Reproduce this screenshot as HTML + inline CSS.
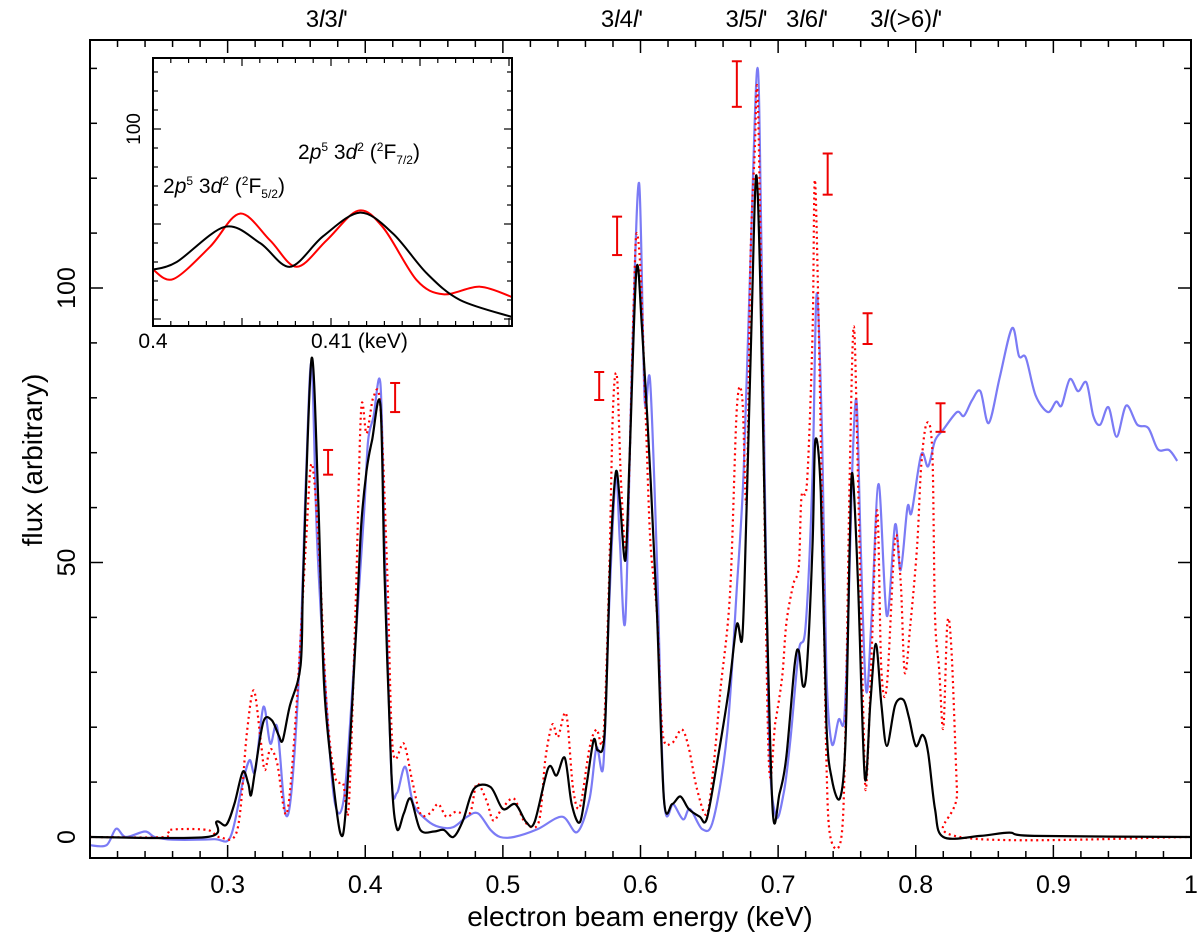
<!DOCTYPE html>
<html><head><meta charset="utf-8">
<style>
html,body{margin:0;padding:0;background:#fff;}
svg{display:block;font-family:"Liberation Sans",Arial,sans-serif;}
</style></head>
<body>
<svg id="chart" width="1200" height="942" viewBox="0 0 1200 942" xmlns="http://www.w3.org/2000/svg">
<g id="main"></g>
<g id="inset"></g>
</svg>
<script>
// ---- main chart data ----
const xTickLabels = ["0.3","0.4","0.5","0.6","0.7","0.8","0.9","1"];
const xTickValues = [0.3,0.4,0.5,0.6,0.7,0.8,0.9,1.0];
const yTickValues = [0,50,100];
const transitionLabels = ["3l3l'","3l4l'","3l5l'","3l6l'","3l(>6)l'"];
const transitionEnergies = [0.372,0.5865,0.677,0.721,0.793];

const blackE = [0.2,0.285,0.292,0.299,0.305,0.311,0.315,0.317,0.320,0.326,0.332,0.337,0.340,0.345,0.353,0.355,0.361,0.366,0.370,0.376,0.382,0.386,0.393,0.397,0.401,0.405,0.411,0.414,0.419,0.423,0.428,0.433,0.440,0.450,0.457,0.464,0.471,0.479,0.491,0.500,0.509,0.517,0.523,0.533,0.539,0.545,0.550,0.556,0.561,0.566,0.569,0.574,0.578,0.582,0.585,0.589,0.592,0.597,0.601,0.607,0.612,0.617,0.623,0.629,0.635,0.643,0.648,0.655,0.664,0.670,0.674,0.677,0.681,0.684,0.687,0.691,0.696,0.701,0.706,0.712,0.715,0.718,0.721,0.725,0.727,0.731,0.735,0.739,0.745,0.749,0.752,0.754,0.758,0.763,0.767,0.771,0.775,0.779,0.785,0.791,0.795,0.800,0.805,0.809,0.814,0.820,0.847,0.868,0.886,1.0];
const blackV = [0,0,2.8,2.2,6.1,11.9,9.7,7.6,12.2,21,21.3,18.6,17.6,23.7,31.3,48,87.2,60,28,11.6,0.6,5.5,35.8,56.5,66.8,72.3,78.7,48,11.6,1.5,4.3,7,1.3,1,1.3,0,3,8.8,9.1,5.1,6,2.7,2.7,12.6,11.2,14.4,6,2.7,9.8,17.7,15.8,19.1,50,66.3,61.2,50.4,68.6,103.2,93,66.8,40.6,7,6,7.4,5.1,3.7,3.2,12.6,26.6,38.7,36.4,59.3,96.7,120.5,101.3,50,5.1,7.9,14.7,31.3,33.9,27.5,31.3,53,72.2,62.7,21.1,10.6,7.1,17.9,53,66.2,46.7,10.9,24.3,35.2,24.3,16.6,24,25,21.8,16.6,18.6,15.4,5.1,0,0.2,0.8,0.2,0];

const blueE = [0.2,0.212,0.219,0.226,0.24,0.247,0.26,0.29,0.302,0.311,0.316,0.320,0.326,0.331,0.336,0.342,0.347,0.353,0.357,0.361,0.365,0.372,0.378,0.385,0.393,0.399,0.402,0.406,0.411,0.414,0.419,0.423,0.429,0.435,0.445,0.454,0.464,0.474,0.482,0.491,0.498,0.508,0.525,0.543,0.554,0.563,0.568,0.573,0.577,0.582,0.585,0.589,0.594,0.599,0.603,0.607,0.612,0.617,0.624,0.631,0.636,0.645,0.653,0.663,0.670,0.675,0.680,0.685,0.688,0.693,0.698,0.704,0.709,0.715,0.720,0.725,0.728,0.732,0.735,0.739,0.744,0.748,0.751,0.754,0.757,0.760,0.764,0.768,0.773,0.779,0.785,0.789,0.794,0.797,0.804,0.809,0.814,0.820,0.830,0.835,0.841,0.847,0.853,0.861,0.870,0.875,0.880,0.887,0.896,0.902,0.906,0.912,0.918,0.924,0.929,0.934,0.940,0.946,0.953,0.961,0.969,0.976,0.984,0.990];
const blueV = [-1.5,-1.5,1.5,0,1,0,-0.5,-0.4,0,10,14,12,23.7,17,20,4.3,10,36,66,86.2,54,23.7,6.1,8,36,58.6,72,76.5,82.6,54,11.6,8,12.8,6,3,1.8,1.8,3.7,4.3,1.3,0,0,1.4,3.7,0.9,7,16.3,13,40.6,65.8,53.7,39.7,87.3,119.1,79.8,83.1,50,7,6,3.2,5.1,1.4,3.2,19,45.3,66.8,106,140.1,106,21.9,4.1,7.9,17.9,33.9,38.4,65.9,99,72.2,30.7,17,21.4,21.4,40.3,67.8,79.3,53,26.6,40.3,64.3,40.3,56.9,48.6,60.1,59.1,69.7,67.5,72.2,74.2,77.4,76.7,79.6,81.2,75.4,83.7,92.7,87.6,87.3,80.5,77.4,79.3,78.6,83.4,81.2,82.8,76.7,75.1,78.3,72.9,78.6,75.1,74.5,70.6,70.5,68.5];

const redE = [0.2,0.254,0.258,0.285,0.294,0.307,0.314,0.319,0.324,0.327,0.331,0.336,0.343,0.350,0.357,0.361,0.366,0.372,0.378,0.384,0.388,0.393,0.397,0.401,0.406,0.411,0.416,0.420,0.428,0.434,0.440,0.447,0.453,0.459,0.466,0.476,0.481,0.488,0.493,0.499,0.508,0.516,0.526,0.531,0.536,0.540,0.546,0.551,0.556,0.563,0.568,0.573,0.577,0.580,0.583,0.586,0.590,0.595,0.597,0.600,0.603,0.607,0.612,0.616,0.623,0.630,0.635,0.641,0.648,0.653,0.658,0.665,0.670,0.674,0.677,0.680,0.683,0.685,0.688,0.693,0.698,0.703,0.706,0.711,0.715,0.717,0.721,0.725,0.727,0.732,0.735,0.738,0.746,0.749,0.752,0.755,0.758,0.762,0.764,0.768,0.772,0.775,0.779,0.785,0.789,0.792,0.796,0.801,0.804,0.808,0.812,0.814,0.817,0.820,0.823,0.826,0.830,0.832,1.0];
const redV = [0,0,1.3,1.3,0,1.3,19,26.7,17.6,12.2,16,13.4,4.3,23.7,54,68,54,23.7,11,9.7,5.5,42,77.7,73.5,80.2,78.4,48,16,17,10.4,4.3,4.3,6,3.7,4.6,4.3,9.7,6.7,3,5,7,2.7,2.7,14.4,20.5,18.2,22.4,8.8,5.5,16.3,19.6,18.2,45.3,78,83.6,64,53.7,96.7,109.8,103.2,82.7,54.6,40.6,19.1,17.2,19.6,16.3,8.8,4.1,12.6,26.6,44.3,78,79.8,61.2,106,124.7,135.9,96.7,15.4,21,29.4,39,46,49.2,62,64.6,91.4,119,59.5,14.7,0,0,21.1,65.9,93,65.9,21.1,9,33.9,59.5,30.7,27.5,54.3,46.7,30,38.4,53,67.8,75.4,70.3,40.3,30.7,19.8,39,33.9,8.3,0,0];

const errE = [0.373,0.4217,0.570,0.583,0.670,0.736,0.765,0.818];
const errLo = [66,77.4,79.6,106,133,117,89.8,73.8];
const errHi = [70.5,82.7,84.7,113,141.3,124.5,95.4,79];

// ---- inset data ----
const insetBlackE = [0.4,0.40133,0.40404,0.40601,0.4077,0.40955,0.41163,0.41348,0.41538,0.41725,0.42019];
const insetBlackV = [85.2,86.0,89.7,88.0,85.5,88.7,91.2,89.0,84.8,82.0,80.2];
const insetRedE = [0.4,0.40114,0.4032,0.40489,0.40657,0.40807,0.40976,0.41153,0.41294,0.41481,0.41631,0.41837,0.42019];
const insetRedV = [85.2,84.2,87.6,91.1,88.3,85.5,88.3,91.4,89.6,84.1,82.6,83.4,82.3];

const NS="http://www.w3.org/2000/svg";
function mk(parent,tag,attrs,text){const e=document.createElementNS(NS,tag);for(const k in attrs)e.setAttribute(k,attrs[k]);if(text!==undefined)e.textContent=text;parent.appendChild(e);return e;}

const L=90,R=1191,T=40,B=858;
const xs=e=>L+(e-0.2)*1376.25;
const ys=v=>837-v*5.49;
function smoothPath(E,V,fx,fy){
  const p=E.map((e,i)=>[fx(e),fy(V[i])]);
  let d="M"+p[0][0].toFixed(1)+","+p[0][1].toFixed(1);
  for(let i=0;i<p.length-1;i++){
    const p0=p[Math.max(0,i-1)],p1=p[i],p2=p[i+1],p3=p[Math.min(p.length-1,i+2)];
    const t=0.16;
    const c1=[p1[0]+(p2[0]-p0[0])*t,p1[1]+(p2[1]-p0[1])*t];
    const c2=[p2[0]-(p3[0]-p1[0])*t,p2[1]-(p3[1]-p1[1])*t];
    d+="C"+c1[0].toFixed(1)+","+c1[1].toFixed(1)+" "+c2[0].toFixed(1)+","+c2[1].toFixed(1)+" "+p2[0].toFixed(1)+","+p2[1].toFixed(1);
  }
  return d;
}
const main=document.getElementById('main');
const clip=mk(main,'clipPath',{id:'mclip'});mk(clip,'rect',{x:L,y:T,width:R-L,height:B-T});
const series=mk(main,'g',{'clip-path':'url(#mclip)'});


const pb=mk(series,'path',{d:smoothPath(blueE,blueV,xs,ys),fill:'none',stroke:'#7b7bf5','stroke-width':2.2});


const pr=mk(series,'path',{d:smoothPath(redE,redV,xs,ys),fill:'none',stroke:'#ff0000','stroke-width':2.2,'stroke-dasharray':'2,3.5'});


const pk=mk(series,'path',{d:smoothPath(blackE,blackV,xs,ys),fill:'none',stroke:'#000','stroke-width':2.2});


errE.forEach((e,i)=>{
  const g=mk(series,'g',{stroke:'#e00','stroke-width':2});
  
  
  const x=xs(e);
  mk(g,'line',{x1:x,x2:x,y1:ys(errLo[i]),y2:ys(errHi[i])});
  mk(g,'line',{x1:x-5,x2:x+5,y1:ys(errLo[i]),y2:ys(errLo[i])});
  mk(g,'line',{x1:x-5,x2:x+5,y1:ys(errHi[i]),y2:ys(errHi[i])});
});
const fr=mk(main,'rect',{x:L,y:T,width:R-L,height:B-T,fill:'none',stroke:'#000','stroke-width':2});


for(let k=0;k<=40;k++){
  const e=0.2+k*0.02;const x=xs(e);const major=k%5===0;const len=major?13:7;
  mk(main,'line',{x1:x,x2:x,y1:B,y2:B-len,stroke:'#000','stroke-width':1.5});
  mk(main,'line',{x1:x,x2:x,y1:T,y2:T+len,stroke:'#000','stroke-width':1.5});
}
xTickValues.forEach((v,i)=>{
  const t=mk(main,'text',{x:xs(v),y:893,'font-size':25,'text-anchor':'middle'},xTickLabels[i]);
  
  
});
for(let v=0;v<=140;v+=10){
  const y=ys(v);const major=v%50===0;const len=major?13:7;
  mk(main,'line',{x1:L,x2:L+len,y1:y,y2:y,stroke:'#000','stroke-width':1.5});
  mk(main,'line',{x1:R,x2:R-len,y1:y,y2:y,stroke:'#000','stroke-width':1.5});
}
yTickValues.forEach(v=>{
  const t=mk(main,'text',{x:0,y:0,'font-size':25,'text-anchor':'middle',transform:`translate(75,${ys(v)}) rotate(-90)`},String(v));
  
  
});
const xt=mk(main,'text',{x:640,y:926,'font-size':28,'text-anchor':'middle'},'electron beam energy (keV)');


const yt=mk(main,'text',{x:0,y:0,'font-size':28,'text-anchor':'middle',transform:'translate(42,460) rotate(-90)'},'flux (arbitrary)');


transitionLabels.forEach((s,i)=>{
  const t=mk(main,'text',{x:xs(transitionEnergies[i]),y:27,'font-size':24,'text-anchor':'middle'});
  
  
  s.split(/(l)/).forEach(part=>{ if(!part)return; mk(t,'tspan',part==='l'?{'font-style':'italic'}:{},part); });
});

const inset=document.getElementById('inset');
const IL=153,IR=512,IT=58,IB=326;
const ixs=e=>IL+(e-0.4)*17800;
const iys=v=>129+(100-v)*9.5;
mk(inset,'rect',{x:IL,y:IT,width:IR-IL,height:IB-IT,fill:'#fff',stroke:'none'});
const iclip=mk(inset,'clipPath',{id:'iclip'});mk(iclip,'rect',{x:IL,y:IT,width:IR-IL,height:IB-IT});
const ig=mk(inset,'g',{'clip-path':'url(#iclip)'});
const ir=mk(ig,'path',{d:smoothPath(insetRedE,insetRedV,ixs,iys),fill:'none',stroke:'#ff0000','stroke-width':2});


const ik=mk(ig,'path',{d:smoothPath(insetBlackE,insetBlackV,ixs,iys),fill:'none',stroke:'#000','stroke-width':2});


const ifr=mk(inset,'rect',{x:IL,y:IT,width:IR-IL,height:IB-IT,fill:'none',stroke:'#000','stroke-width':2});


for(let k=0;k<=20;k++){
  const x=ixs(0.4+k*0.001);if(x>IR)break;const len=k%5===0?8:5;
  mk(inset,'line',{x1:x,x2:x,y1:IB,y2:IB-len,stroke:'#000','stroke-width':1.2});
  mk(inset,'line',{x1:x,x2:x,y1:IT,y2:IT+len,stroke:'#000','stroke-width':1.2});
}
for(let v=80;v<=110;v+=2){
  const y=iys(v);if(y<IT||y>IB)continue;const len=v%10===0?8:5;
  mk(inset,'line',{x1:IL,x2:IL+len,y1:y,y2:y,stroke:'#000','stroke-width':1.2});
  mk(inset,'line',{x1:IR,x2:IR-len,y1:y,y2:y,stroke:'#000','stroke-width':1.2});
}
const il1=mk(inset,'text',{x:IL,y:348,'font-size':21,'text-anchor':'middle'},'0.4');


const il2=mk(inset,'text',{x:ixs(0.41)-20,y:348,'font-size':21},'0.41 (keV)');


const il3=mk(inset,'text',{x:0,y:0,'font-size':19,'text-anchor':'middle',transform:'translate(140,129) rotate(-90)'},'100');


</script>
<div style="position:absolute;left:163px;top:174px;font:21px 'Liberation Sans',sans-serif;white-space:nowrap">2<i>p</i><sup style="font-size:12px">5</sup> 3<i>d</i><sup style="font-size:12px">2</sup> (<sup style="font-size:12px">2</sup>F<sub style="font-size:12px">5/2</sub>)</div>
<div style="position:absolute;left:298px;top:140px;font:21px 'Liberation Sans',sans-serif;white-space:nowrap">2<i>p</i><sup style="font-size:12px">5</sup> 3<i>d</i><sup style="font-size:12px">2</sup> (<sup style="font-size:12px">2</sup>F<sub style="font-size:12px">7/2</sub>)</div>
</body></html>
